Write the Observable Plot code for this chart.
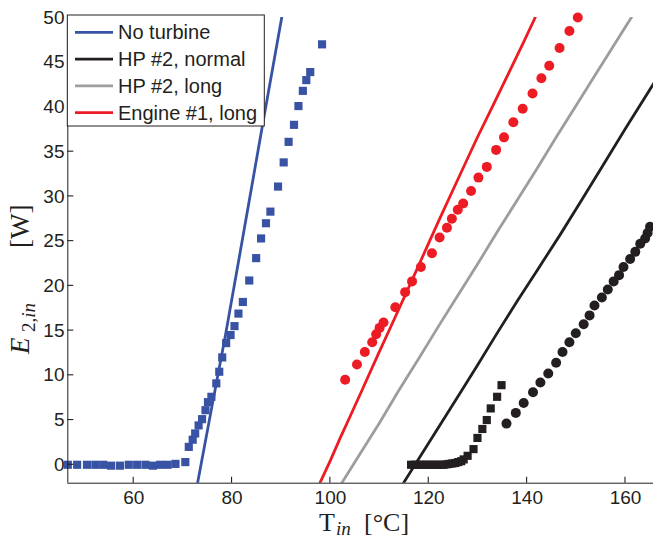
<!DOCTYPE html>
<html><head><meta charset="utf-8">
<script src="https://cdn.jsdelivr.net/npm/d3@7"></script>
<script src="https://cdn.jsdelivr.net/npm/@observablehq/plot@0.6"></script>
<style>
body{margin:0;background:#fff;}
#wrap{position:relative;width:653px;height:539px;overflow:hidden;}
</style></head><body><div id="wrap"></div>
<script>
// ---- data ----
const seriesNames = ["No turbine", "HP #2, normal", "HP #2, long", "Engine #1, long"];
const seriesColors = ["#3953a4", "#231f20", "#9d9d9d", "#ed1c24"];
const xTicks = [60, 80, 100, 120, 140, 160];
const yTicks = [0, 5, 10, 15, 20, 25, 30, 35, 40, 45, 50];
const xDomain = [46.6, 165.7];
const yDomain = [-2.06, 50];

// model lines [T, E]
const lineNoTurbine = [[73.0,-2],[75.8,6.2],[78.6,14.3],[82.5,26.4],[86.4,38.6],[90.1,50]];
const lineHPNormal = [[114.9,-2],[118,0.7],[122,4.2],[126.7,8.3],[130,11.2],[134,14.8],[138,18.3],[142,21.7],[146.7,25.7],[151.1,29.6],[155,33.1],[160,37.6],[165.7,42.6]];
const lineHPLong = [[102.35,-2],[106,1.2],[110,4.7],[113.9,8.3],[118,11.9],[122,15.5],[126,19.0],[130,22.5],[134,26.1],[138,29.6],[142,33.1],[146,36.7],[150,40.2],[154,43.7],[158,47.2],[161.2,50]];
const lineEngineLong = [[97.9,-2],[100,0.5],[102,3.0],[104,5.4],[106.4,8.3],[110,12.7],[113,16.3],[116.9,21.0],[120,24.8],[122.3,27.6],[126,32],[129.8,36.5],[133,40.1],[136,43.5],[139,46.9],[141.65,50]];

// measured points [T, E]
const blueSquares = [[46.6,0],[48.5,0],[50.5,0],[52.2,0],[53.8,0],[55.4,-0.1],[57.2,-0.1],[59.0,0],[60.7,0],[62.4,0],[63.9,-0.1],[65.4,0],[66.9,0],[68.5,0.1],[70.5,0.3],
 [71.2,2.0],[72.0,2.8],[72.5,3.5],[73.2,4.4],[73.9,5.1],[74.6,6.1],[75.1,7.0],[75.8,7.6],[76.8,9.1],[77.4,10.4],[78.0,12.0],[78.8,13.6],[79.7,14.5],[80.5,15.5],[81.3,16.9],[82.2,18.2],[83.5,20.6],[84.9,23.1],[85.9,25.3],[86.9,27.0],[87.8,28.3],[89.35,31.1],[90.5,33.8],[91.5,36.1],[92.6,38.0],[93.5,40.1],[94.4,41.8],[95.1,43.0],[95.9,43.9],[98.3,47.0]];
const blackSquares = [[116.4,0],[117.0,0],[117.6,0],[118.2,0],[118.8,0],[119.4,0],[120.0,0],[120.6,0],[121.2,0],[121.8,0],[122.4,0],[123.0,0],[123.6,0.05],[124.2,0.1],[124.8,0.15],[125.4,0.2],[126.0,0.3],[126.6,0.4],[127.1,0.6],
 [127.9,1.0],[129.1,1.75],[129.9,3.0],[130.9,4.0],[131.8,5.0],[132.6,6.3],[133.9,7.6],[134.8,8.9]];
const redDots = [[103.0,9.5],[105.4,11.2],[107.0,12.6],[108.5,13.7],[109.3,14.6],[110.0,15.3],[110.8,15.9],[113.2,17.6],[115.2,19.3],[116.6,20.5],[118.4,22.1],[120.65,23.65],[122.2,25.4],[123.7,26.5],[124.7,27.5],[125.9,28.5],[127.0,29.2],[128.6,30.6],[130.1,32.1],[131.8,33.3],[133.7,35.2],[135.3,36.6],[137.2,38.3],[139.1,39.8],[141.1,41.5],[142.9,43.2],[144.5,44.6],[146.6,46.6],[148.6,48.5],[150.3,50.0]];
const blackDots = [[135.8,4.6],[137.7,5.8],[139.3,6.9],[141.2,8.1],[142.7,9.2],[144.3,10.2],[145.9,11.4],[147.2,12.6],[148.6,13.7],[149.9,14.7],[151.5,15.7],[152.7,16.7],[153.7,17.8],[155.2,18.7],[156.4,19.6],[157.6,20.5],[158.7,21.2],[159.6,22.1],[160.95,23.0],[162.0,23.8],[163.0,24.7],[164.0,25.3],[164.5,25.9],[165.0,26.6]];

const lines = [lineNoTurbine, lineHPNormal, lineHPLong, lineEngineLong];

const lineMarks = lines.map((ln, i) => Plot.line(ln, {x: d => d[0], y: d => d[1], stroke: seriesColors[i], strokeWidth: 2.8, clip: true}));

const chart = Plot.plot({
  width: 653, height: 539,
  marginLeft: 67.3, marginRight: 0, marginTop: 17, marginBottom: 56.3,
  style: {fontFamily: "'Liberation Sans', Arial, sans-serif", fontSize: "19px", color: "#231f20", background: "white", overflow: "visible"},
  x: {domain: xDomain},
  y: {domain: yDomain},
  marks: [
    ...lineMarks,
    Plot.dot(blueSquares, {x: d => d[0], y: d => d[1], symbol: "square", r: 4.6, fill: seriesColors[0]}),
    Plot.dot(blackSquares, {x: d => d[0], y: d => d[1], symbol: "square", r: 4.6, fill: seriesColors[1]}),
    Plot.dot(redDots, {x: d => d[0], y: d => d[1], r: 5, fill: seriesColors[3]}),
    Plot.dot(blackDots, {x: d => d[0], y: d => d[1], r: 5, fill: seriesColors[1]}),
    Plot.ruleX([xDomain[0]], {stroke: "#231f20", strokeWidth: 1}),
    Plot.ruleY([yDomain[0]], {stroke: "#231f20", strokeWidth: 1}),
    Plot.axisX(xTicks, {anchor: "bottom", tickSize: 0, tickPadding: 7.5, label: null, fontSize: 19}),
    Plot.axisY(yTicks, {anchor: "left", tickSize: 0, tickPadding: 3.3, label: null, fontSize: 19})
  ]
});
document.getElementById("wrap").appendChild(chart);

const svg = d3.select(chart);
const sx = chart.scale("x"), sy = chart.scale("y");
const x0 = sx.apply(xDomain[0]), y0 = sy.apply(yDomain[0]);

// inward tick marks, positioned with Plot's scales
const tg = svg.append("g").attr("stroke", "#231f20").attr("stroke-width", 1.1);
xTicks.forEach(t => {
  const px = sx.apply(t);
  tg.append("line").attr("x1", px).attr("x2", px).attr("y1", y0).attr("y2", y0 - 6);
});
yTicks.forEach(t => {
  const py = sy.apply(t);
  tg.append("line").attr("x1", x0).attr("x2", x0 + 6).attr("y1", py).attr("y2", py);
});

const serif = "'Liberation Serif', 'Times New Roman', serif";

// x-axis label
const xl = svg.append("text").attr("y", 531).attr("text-anchor", "start").attr("font-family", serif).attr("font-size", 26).attr("fill", "#231f20");
xl.append("tspan").attr("x", 319).text("T");
xl.append("tspan").attr("x", 336).attr("dy", 3.5).attr("font-size", 19).attr("font-style", "italic").text("in");
xl.append("tspan").attr("x", 364).attr("dy", -3.5).text("[°C]");

// y-axis label
const yl = svg.append("text").attr("transform", "translate(29,354) rotate(-90)").attr("text-anchor", "start").attr("font-family", serif).attr("font-size", 27).attr("fill", "#231f20");
yl.append("tspan").attr("x", 0).attr("font-style", "italic").text("E");
yl.append("tspan").attr("x", 22).attr("dy", 6).attr("font-size", 19).text("2,");
yl.append("tspan").attr("font-size", 19).attr("font-style", "italic").text("in");
yl.append("tspan").attr("x", 106).attr("dy", -6).text("[W]");

// legend
const lg = svg.append("g").attr("text-anchor", "start");
lg.append("rect").attr("x", 67.3).attr("y", 15).attr("width", 197).attr("height", 111).attr("fill", "white").attr("stroke", "#231f20").attr("stroke-width", 1);
seriesNames.forEach((name, i) => {
  const cy = 32.3 + i * 26.8;
  lg.append("line").attr("x1", 75).attr("x2", 113).attr("y1", cy).attr("y2", cy).attr("stroke", seriesColors[i]).attr("stroke-width", 2.8);
  lg.append("text").attr("x", 118).attr("y", cy + 7).attr("font-family", "'Liberation Sans', Arial, sans-serif").attr("font-size", 20).attr("fill", "#231f20").text(name);
});
</script></body></html>
